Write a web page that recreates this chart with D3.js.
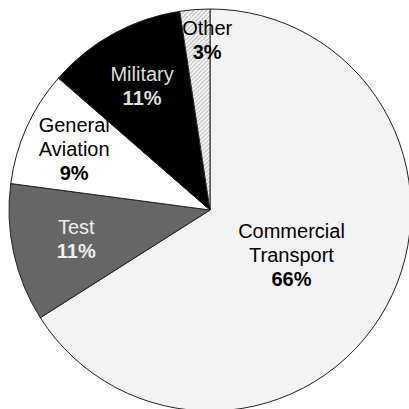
<!DOCTYPE html>
<html><head><meta charset="utf-8">
<script src="https://cdn.jsdelivr.net/npm/d3@7"></script>
<style>html,body{margin:0;padding:0;background:#fff;}svg{display:block;}</style>
</head><body>
<svg id="chart" width="409" height="409"></svg>
<script>
// Data
const categories = ["Commercial Transport", "Test", "General Aviation", "Military", "Other"];
const values = [66.0, 11.1, 9.3, 11.2, 2.4];
const labelLines = [["Commercial", "Transport"], ["Test"], ["General", "Aviation"], ["Military"], ["Other"]];
const percentLabels = ["66%", "11%", "9%", "11%", "3%"];

// Styling
const fills = ["#f3f3f3", "#666666", "#ffffff", "#000000", "url(#hatch)"];
const textColors = ["#000", "#eeeeee", "#000", "#dddddd", "#000"];
const labelRadius = [93, 137, 149, 141, 170];
const labelDx = [0, 0, 0, 0, 10];

const svg = d3.select("#chart");
const cx = 210, cy = 210, R = 201;

const defs = svg.append("defs");
const pat = defs.append("pattern").attr("id", "hatch").attr("patternUnits", "userSpaceOnUse")
  .attr("width", 3).attr("height", 3).attr("patternTransform", "rotate(45)");
pat.append("rect").attr("width", 3).attr("height", 3).attr("fill", "#f4f4f4");
pat.append("line").attr("x1", 0).attr("y1", 0).attr("x2", 0).attr("y2", 3)
  .attr("stroke", "#888").attr("stroke-width", 1);

const data = categories.map((c, i) => ({ c, v: values[i], i }));
const pie = d3.pie().value(d => d.v).sort(null);
const arcs = pie(data);
const arc = d3.arc().innerRadius(0).outerRadius(R);

const g = svg.append("g").attr("transform", `translate(${cx},${cy})`);
g.selectAll("path").data(arcs).join("path")
  .attr("d", arc)
  .attr("fill", d => fills[d.data.i])
  .attr("stroke", "#222")
  .attr("stroke-width", 1);

const lh = 24;
arcs.forEach(d => {
  const i = d.data.i;
  const la = d3.arc().innerRadius(labelRadius[i]).outerRadius(labelRadius[i]);
  const [x, y] = la.centroid(d);
  const lines = labelLines[i].map(t => ({ t, bold: false })).concat([{ t: percentLabels[i], bold: true }]);
  const n = lines.length;
  lines.forEach((ln, k) => {
    g.append("text")
      .attr("x", x + labelDx[i])
      .attr("y", y + (k - (n - 1) / 2) * lh + 7)
      .attr("text-anchor", "middle")
      .attr("font-family", "Liberation Sans, Arial, sans-serif")
      .attr("font-size", 20)
      .attr("font-weight", ln.bold ? "bold" : "normal")
      .attr("fill", textColors[i])
      .text(ln.t);
  });
});
</script>
</body></html>
